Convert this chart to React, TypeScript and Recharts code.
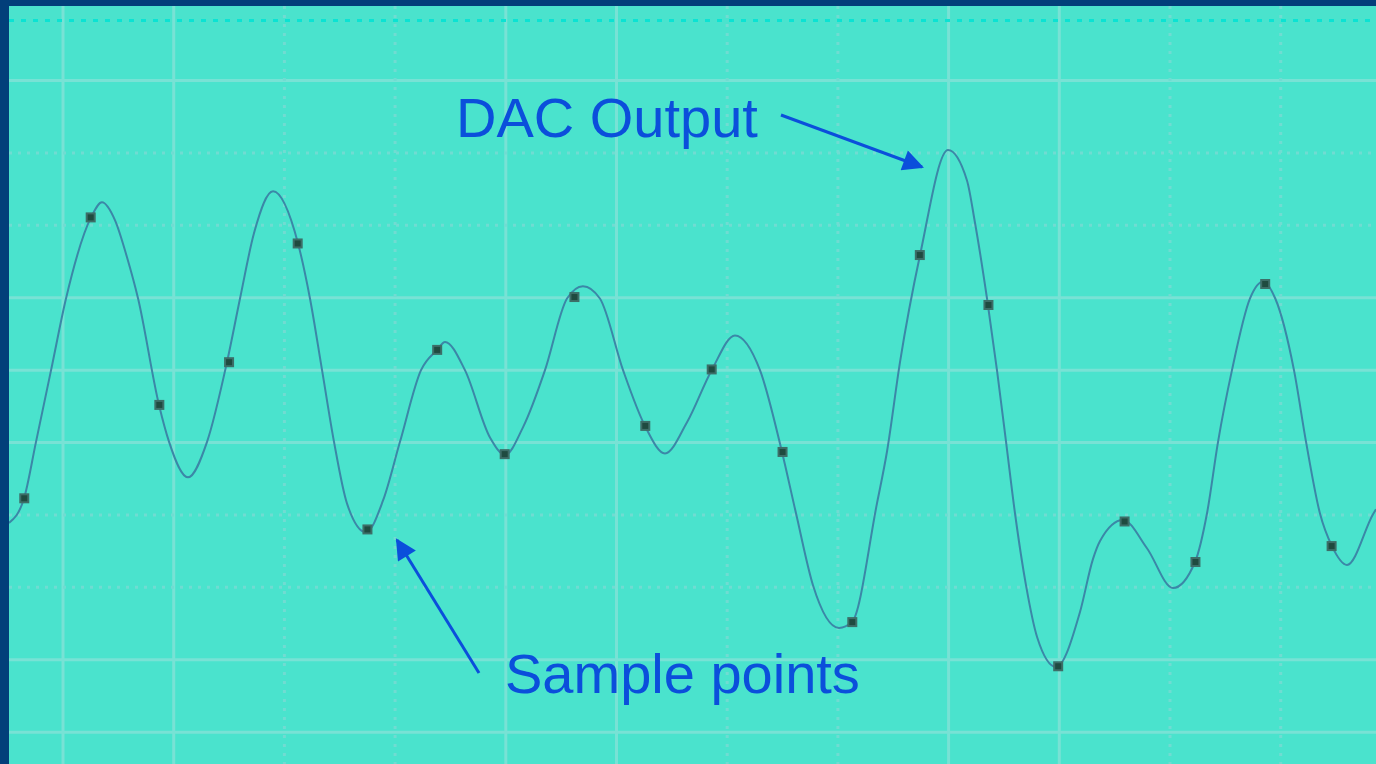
import { ComposedChart, Line, Scatter, XAxis, YAxis, CartesianGrid, ReferenceLine } from 'recharts';

// time axis: grid every 10 units; level axis: grid every 1 unit
const gridTimes = [0, 10, 20, 30, 40, 50, 60, 70, 80, 90, 100, 110];
const gridLevels = [0, 1, 2, 3, 4, 5, 6, 7, 8, 9];
const majorTimes = [0, 10, 40, 50, 80, 90];
const minorTimes = [20, 30, 60, 70, 100, 110];
const majorLevels = [0, 1, 4, 5, 6, 9];
const minorLevels = [2, 3, 7, 8];

// sample instants and levels (dots)
const sampleTimes = [-3.5, 2.5, 8.7, 15.0, 21.2, 27.5, 33.8, 39.9, 46.2, 52.6, 58.6, 65.0, 71.3, 77.4, 83.6, 89.9, 95.9, 102.3, 108.6, 114.6];
const sampleLevels = [3.23, 7.11, 4.52, 5.11, 6.75, 2.8, 5.28, 3.84, 6.01, 4.23, 5.01, 3.87, 1.52, 6.59, 5.9, 0.91, 2.91, 2.35, 6.19, 2.57];

// reconstructed DAC output (extremes + grid crossings)
const dacTimes = [
  -4.88, -3.52, -2.44, -1.08, 0.27, 2.53, 3.52, 4.7, 5.78, 6.78, 8.67, 9.58, 11.29, 13.01, 14.81, 15.99, 17.25,
  18.97, 21.23, 22.31, 23.4, 24.48, 25.65, 27.37, 28.91, 30.44, 32.34, 33.79, 34.51, 36.31, 38.57, 39.93, 41.55,
  43.54, 45.53, 46.97, 48.5, 50.59, 52.57, 54.38, 56.37, 58.63, 60.7, 62.96, 64.95, 66.22, 67.75, 70.1, 71.27,
  73.53, 74.44, 75.61, 77.42, 79.95, 81.66, 82.38, 83.47, 84.37, 85.19, 86.0, 86.99, 88.0, 89.7, 91.87, 93.04,
  93.68, 95.75, 97.92, 100.27, 102.26, 103.34, 104.34, 105.6, 107.23, 108.4, 109.51, 111.2, 112.29, 113.55,
  114.63, 115.99, 118.34, 118.61,
];
const dacLevels = [
  2.89, 3.23, 4.01, 5.0, 5.99, 7.11, 7.32, 7.07, 6.56, 5.99, 4.52, 4.01, 3.52, 4.01, 5.11, 5.99, 6.89,
  7.47, 6.75, 5.99, 5.0, 4.01, 3.16, 2.76, 3.2, 4.01, 5.0, 5.28, 5.39, 5.0, 4.07, 3.83, 4.21,
  5.0, 5.99, 6.16, 5.99, 5.0, 4.23, 3.85, 4.28, 5.01, 5.48, 5.0, 3.87, 3.02, 2.03, 1.44, 1.52,
  3.16, 3.88, 5.11, 6.59, 8.04, 7.62, 7.04, 5.99, 5.0, 4.01, 3.02, 2.03, 1.31, 0.9, 1.66, 2.39,
  2.64, 2.93, 2.54, 1.99, 2.35, 3.02, 4.01, 5.0, 5.99, 6.22, 5.99, 5.0, 4.01, 3.02,
  2.57, 2.31, 3.01, 3.08,
];

const samples = sampleTimes.map((t, i) => ({ t, v: sampleLevels[i] }));
const dac = dacTimes.map((t, i) => ({ t, v: dacLevels[i] }));

const BLUE = '#0B4FDB';

function SquareDot(props: any) {
  const { cx, cy } = props;
  if (cx == null || cy == null) return null;
  return (
    <g>
      <rect x={cx - 5} y={cy - 5} width={10} height={10} fill="#3D6E68" />
      <rect x={cx - 3} y={cy - 3} width={6} height={6} fill="#1F4B40" />
    </g>
  );
}

export default function App() {
  return (
    <div style={{ position: 'fixed', left: 0, top: 0, width: 1376, height: 764, background: '#023F7A', overflow: 'hidden' }}>
      <div style={{ position: 'absolute', left: 9, top: 6, width: 1367, height: 758, background: '#4AE3CD' }}>
        <ComposedChart width={1367} height={758} margin={{ top: 0, right: 0, bottom: 0, left: 0 }}>
          <CartesianGrid
            stroke="#78E2D5"
            strokeWidth={3}
            horizontalValues={majorLevels}
            verticalValues={majorTimes}
          />
          <CartesianGrid
            stroke="#70DCD2"
            strokeWidth={3}
            strokeDasharray="3 6"
            horizontalValues={minorLevels}
            verticalValues={minorTimes}
          />
          <XAxis
            dataKey="t"
            type="number"
            domain={[-4.88, 118.61]}
            ticks={gridTimes}
            allowDataOverflow
            hide
          />
          <YAxis dataKey="v" type="number" domain={[-0.44, 10.03]} ticks={gridLevels} allowDataOverflow hide />
          <ReferenceLine y={9.83} stroke="#0BE3D3" strokeWidth={3} strokeDasharray="5 7" />
          <Line
            data={dac}
            dataKey="v"
            type="monotone"
            stroke="#3B87A7"
            strokeWidth={2}
            dot={false}
            activeDot={false}
            isAnimationActive={false}
          />
          <Scatter data={samples} dataKey="v" shape={<SquareDot />} isAnimationActive={false} />
        </ComposedChart>
      </div>
      <svg width={1376} height={764} style={{ position: 'absolute', left: 0, top: 0, pointerEvents: 'none' }}>
        <defs>
          <marker id="head" viewBox="0 0 10 10" refX="9" refY="5" markerWidth="8" markerHeight="7" orient="auto" markerUnits="strokeWidth">
            <path d="M0,0 L10,5 L0,10 z" fill={BLUE} />
          </marker>
        </defs>
        <text x={456} y={137} fontFamily="'Liberation Sans', Arial, sans-serif" fontSize={56} fill={BLUE}>
          DAC Output
        </text>
        <line x1={781} y1={115} x2={922} y2={167} stroke={BLUE} strokeWidth={3} markerEnd="url(#head)" />
        <text x={505} y={693} fontFamily="'Liberation Sans', Arial, sans-serif" fontSize={56} fill={BLUE}>
          Sample points
        </text>
        <line x1={479} y1={673} x2={397} y2={540} stroke={BLUE} strokeWidth={3} markerEnd="url(#head)" />
      </svg>
    </div>
  );
}
